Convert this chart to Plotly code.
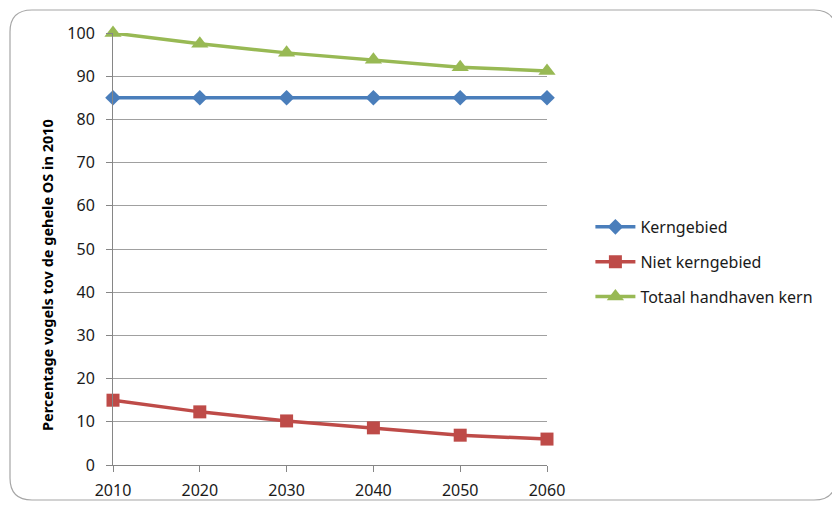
import plotly.graph_objects as go

# data
years = [2010, 2020, 2030, 2040, 2050, 2060]
kerngebied = [85, 85, 85, 85, 85, 85]
niet_kerngebied = [15, 12.3, 10.2, 8.6, 6.9, 6.0]
totaal = [100, 97.5, 95.4, 93.8, 92.1, 91.2]

series = [
    ("Kerngebied", kerngebied, "#4a7ebb", "diamond", 12),
    ("Niet kerngebied", niet_kerngebied, "#be4b48", "square", 13),
    ("Totaal handhaven kern", totaal, "#98b954", "triangle-up", 15),
]

# page has 8px body margin, so shift everything back by that
O = 8
W, H = 840, 508
plot_l, plot_r, plot_t, plot_b = 113, 547, 33, 465  # target pixels on screen
L = plot_l - O
T = plot_t - O
pw, ph = plot_r - plot_l, plot_b - plot_t
R = W - L - pw
B = H - T - ph

fig = go.Figure()
for i, (name, vals, col, sym, sz) in enumerate(series):
    fig.add_trace(go.Scatter(
        x=years, y=vals, name=name, mode="lines+markers",
        line=dict(color=col, width=3.5),
        marker=dict(symbol=sym, size=sz, color=col),
        legendgroup=str(i), cliponaxis=False,
    ))


# screen pixels -> paper coords
def px(x):
    return (x - plot_l) / pw


def py(y):
    return (plot_b - y) / ph


# rounded frame around the chart
x0, x1, y0, y1, r = 10, 836, 10, 500, 22
path = (f"M {px(x0)},{py(y0 + r)} Q {px(x0)},{py(y0)} {px(x0 + r)},{py(y0)} "
        f"L {px(x1 - r)},{py(y0)} Q {px(x1)},{py(y0)} {px(x1)},{py(y0 + r)} "
        f"L {px(x1)},{py(y1 - r)} Q {px(x1)},{py(y1)} {px(x1 - r)},{py(y1)} "
        f"L {px(x0 + r)},{py(y1)} Q {px(x0)},{py(y1)} {px(x0)},{py(y1 - r)} Z")
fig.add_shape(type="path", path=path, xref="paper", yref="paper",
              line=dict(color="#a6a6a6", width=1.2), layer="below")

# y axis title, placed a bit below the plot centre like the original
fig.add_annotation(text="<b>Percentage vogels tov de gehele OS in 2010</b>",
                   xref="paper", yref="paper", x=px(47), y=py(275),
                   xanchor="center", yanchor="middle",
                   textangle=-90, showarrow=False,
                   font=dict(family="Noto Sans", size=14.5, color="black"))

axis_font = dict(family="Noto Sans", size=16, color="#1a1a1a")
fig.update_layout(
    width=W, height=H,
    margin=dict(l=L, r=R, t=T, b=B),
    paper_bgcolor="white", plot_bgcolor="white",
    font=axis_font,
    showlegend=True,
    legend=dict(x=1.1, y=0.47, yanchor="middle", xanchor="left",
                itemwidth=40, tracegroupgap=11,
                font=dict(family="Noto Sans", size=16, color="#1a1a1a"),
                bgcolor="rgba(0,0,0,0)"),
    xaxis=dict(range=[2010, 2060], tickvals=years, showgrid=False,
               showline=True, linecolor="#868686", linewidth=1,
               ticks="outside", ticklen=6, tickcolor="#868686",
               ticklabelstandoff=5,
               zeroline=False, tickfont=axis_font),
    yaxis=dict(range=[0, 100], dtick=10, showgrid=True, gridcolor="#a0a0a0",
               gridwidth=1, showline=True, linecolor="#868686", linewidth=1,
               ticks="outside", ticklen=6, tickcolor="#868686",
               ticklabelstandoff=8,
               zeroline=False, tickfont=axis_font),
)

fig.write_html("out.html")
